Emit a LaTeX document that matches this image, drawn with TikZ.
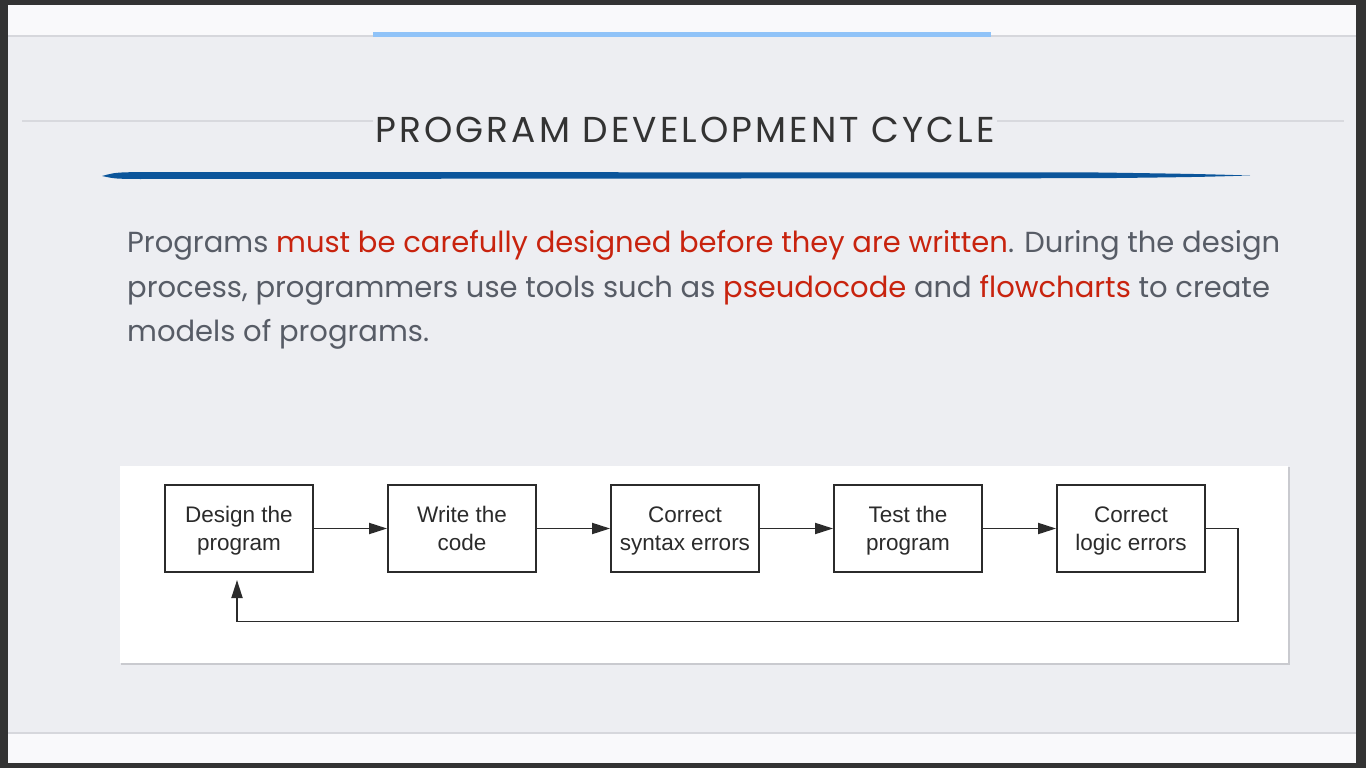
\documentclass[tikz,border=0pt]{standalone}
\usepackage{fontspec}
\setmainfont{Liberation Sans}
\newfontfamily\titlefont[LetterSpace=8.5]{Poppins}
\newfontfamily\bodyfont{Poppins}
\usetikzlibrary{arrows.meta}
\definecolor{framec}{HTML}{333333}
\definecolor{bandc}{HTML}{F9F9FB}
\definecolor{bgc}{HTML}{EDEEF2}
\definecolor{shadc}{HTML}{D6D7DC}
\definecolor{topbar}{HTML}{90C3F8}
\definecolor{rulec}{HTML}{D8D9DE}
\definecolor{swoosh}{HTML}{0B559B}
\definecolor{titlec}{HTML}{333333}
\definecolor{bodyc}{HTML}{575C66}
\definecolor{redc}{HTML}{C8230E}
\definecolor{boxc}{HTML}{2B2B2B}
\definecolor{panelshadow}{HTML}{C9CACF}
\tikzset{
  stepbox/.style={draw=boxc, line width=1.8pt, minimum width=148pt, minimum height=87pt,
    inner sep=0pt, align=center, text=boxc, text depth=0pt, font=\fontsize{22.5}{27.5}\selectfont},
  flowarrow/.style={draw=boxc, line width=1.8pt, -{Triangle[length=18pt,width=11pt]}},
  bodytext/.style={anchor=base west, inner sep=0pt, text=bodyc, font=\bodyfont\fontsize{29}{29}\selectfont},
}
\newcommand{\hl}[1]{\textcolor{redc}{#1}}
\begin{document}
\begin{tikzpicture}[x=1pt,y=-1pt]
\useasboundingbox (0,0) rectangle (1366,768);
\fill[framec] (0,0) rectangle (1366,768);
\fill[bandc] (8,5) rectangle (1356,763);
\fill[bgc] (8,37) rectangle (1356,733);
\fill[shadc] (8,35.5) rectangle (1356,37.5);
\fill[shadc] (8,732) rectangle (1356,734);
\fill[topbar] (373,32) rectangle (991,37);
% rule behind the title
\draw[rulec, line width=1.5pt] (22,121) -- (1344,121);
\node[fill=bgc, inner xsep=2pt, inner ysep=2pt, anchor=base, text=titlec,
  font=\titlefont\fontsize{36}{36}\selectfont] (title) at (685,142) {PROGRAM DEVELOPMENT CYCLE};
% swoosh
\fill[swoosh] (102,176) .. controls (115,172.5) .. (140,172) -- (1100,172.5)
  .. controls (1200,174) .. (1250,175.5) .. controls (1200,177) .. (1100,178.2)
  -- (140,179) .. controls (115,178.8) .. (102,176) -- cycle;
% body text
\node[bodytext] (l1) at (127,252) {Programs \hl{must be carefully designed before they are written}. During the design};
\node[bodytext] (l2) at (127,297) {process, programmers use tools such as \hl{pseudocode} and \hl{flowcharts} to create};
\node[bodytext] (l3) at (127,341) {models of programs.};
% panel
\fill[panelshadow] (121,467) rectangle (1289.5,664.5);
\fill[white] (120,465.5) rectangle (1288,662.5);
% boxes
\node[stepbox] (b1) at (239,528.5) {Design the\\program};
\node[stepbox] (b2) at (462,528.5) {Write the\\code};
\node[stepbox] (b3) at (685,528.5) {Correct\\syntax errors};
\node[stepbox] (b4) at (908,528.5) {Test the\\program};
\node[stepbox] (b5) at (1131,528.5) {Correct\\logic errors};
\draw[flowarrow] (b1) -- (b2);
\draw[flowarrow] (b2) -- (b3);
\draw[flowarrow] (b3) -- (b4);
\draw[flowarrow] (b4) -- (b5);
\coordinate (fbc) at (1238,621.5);
\coordinate (fbend) at (237,580);
\draw[flowarrow] (b5.east) -| (fbc) -| (fbend);
\end{tikzpicture}
\end{document}
